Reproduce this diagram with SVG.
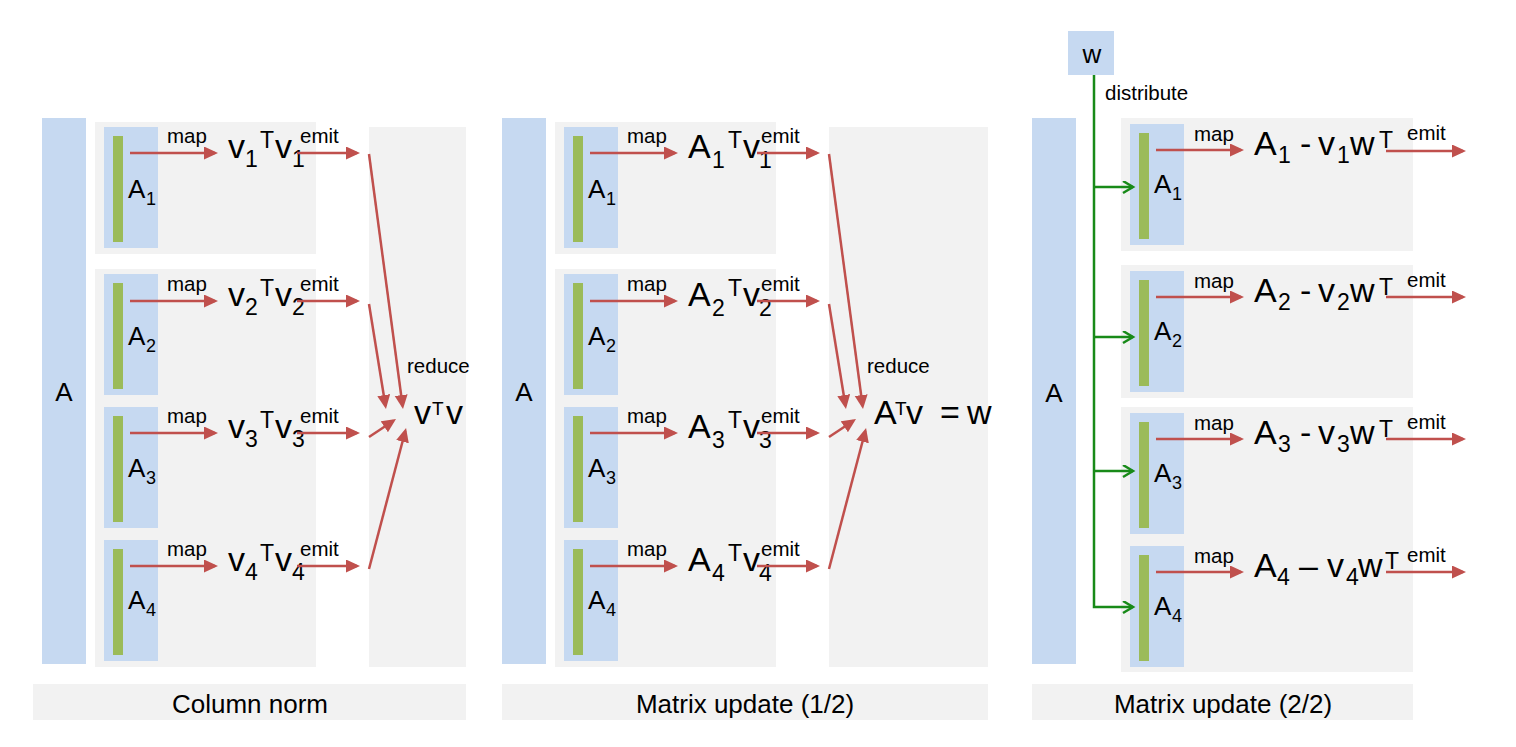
<svg xmlns="http://www.w3.org/2000/svg" width="1516" height="747" viewBox="0 0 1516 747">
<style>
text{font-family:"Liberation Sans",Arial,sans-serif;fill:#000}
.blue{fill:#c6d9f1}
.gray{fill:#f2f2f2}
.bar{fill:#9bbb59}
.lbl{font-size:20.5px}
.big{font-size:26px}
.cap{font-size:26px;text-anchor:middle}
.m{font-size:34px}
.s{font-size:23px}
.si{font-size:18px}
.red{stroke:#c0504d;stroke-width:2.5;fill:none;marker-end:url(#ah)}
.grn{stroke:#188a18;stroke-width:2.5;fill:none;marker-end:url(#gh)}
</style>
<defs>
<marker id="ah" markerUnits="userSpaceOnUse" markerWidth="15" markerHeight="14" refX="11" refY="6.5" orient="auto">
<path d="M0,0 L14,6.5 L0,13 z" fill="#c0504d"/>
</marker>
<marker id="gh" markerUnits="userSpaceOnUse" markerWidth="14" markerHeight="14" refX="11" refY="6.5" orient="auto">
<path d="M1,0.5 L11,6.5 L1,12.5" fill="none" stroke="#188a18" stroke-width="2.5"/>
</marker>
</defs>
<rect width="1516" height="747" fill="#fff"/>

<!-- Panel 1: Column norm -->
<g id="p1-A"><rect class="blue" x="42" y="118" width="44" height="546"/><text class="big" x="64" y="401" text-anchor="middle">A</text></g>
<g id="p1-row1"><rect class="gray" x="95" y="122" width="221" height="132"/><rect class="blue" x="104" y="127" width="54" height="121"/><rect class="bar" x="113" y="136" width="10" height="106"/>
<text class="big" x="128" y="198">A</text><text class="si" x="146" y="205">1</text>
<text class="lbl" x="167" y="143">map</text>
<text class="m" x="228" y="158">v</text><text class="s" x="245" y="167">1</text><text class="s" x="260" y="148">T</text><text class="m" x="275" y="158">v</text><text class="s" x="292" y="167">1</text>
<text class="lbl" x="300" y="143">emit</text></g>
<g id="p1-row2"><rect class="gray" x="95" y="269" width="221" height="133"/><rect class="blue" x="104" y="274" width="54" height="121"/><rect class="bar" x="113" y="283" width="10" height="106"/>
<text class="big" x="128" y="345">A</text><text class="si" x="146" y="352">2</text>
<text class="lbl" x="167" y="291">map</text>
<text class="m" x="228" y="306">v</text><text class="s" x="245" y="315">2</text><text class="s" x="260" y="296">T</text><text class="m" x="275" y="306">v</text><text class="s" x="292" y="315">2</text>
<text class="lbl" x="300" y="291">emit</text></g>
<g id="p1-row3"><rect class="gray" x="95" y="402" width="221" height="132"/><rect class="blue" x="104" y="407" width="54" height="121"/><rect class="bar" x="113" y="416" width="10" height="106"/>
<text class="big" x="128" y="477">A</text><text class="si" x="146" y="484">3</text>
<text class="lbl" x="167" y="423">map</text>
<text class="m" x="228" y="438">v</text><text class="s" x="245" y="447">3</text><text class="s" x="260" y="428">T</text><text class="m" x="275" y="438">v</text><text class="s" x="292" y="447">3</text>
<text class="lbl" x="300" y="423">emit</text></g>
<g id="p1-row4"><rect class="gray" x="95" y="534" width="221" height="133"/><rect class="blue" x="104" y="540" width="54" height="121"/><rect class="bar" x="113" y="549" width="10" height="106"/>
<text class="big" x="128" y="609">A</text><text class="si" x="146" y="616">4</text>
<text class="lbl" x="167" y="556">map</text>
<text class="m" x="228" y="571">v</text><text class="s" x="245" y="580">4</text><text class="s" x="260" y="561">T</text><text class="m" x="275" y="571">v</text><text class="s" x="292" y="580">4</text>
<text class="lbl" x="300" y="556">emit</text></g>
<g id="p1-reduce"><rect class="gray" x="369" y="127" width="97" height="540"/>
<text class="lbl" x="407" y="373">reduce</text>
<text class="m" x="414" y="424">v</text><text style="font-size:19px" x="432" y="415">T</text><text class="m" x="446" y="424">v</text></g>
<g id="p1-caption"><rect class="gray" x="33" y="684" width="433" height="36"/><text class="cap" x="250" y="713">Column norm</text></g>

<!-- Panel 2: Matrix update (1/2) -->
<g id="p2-A"><rect class="blue" x="502" y="118" width="44" height="546"/><text class="big" x="524" y="401" text-anchor="middle">A</text></g>
<g id="p2-row1"><rect class="gray" x="555" y="122" width="221" height="132"/><rect class="blue" x="564" y="127" width="54" height="121"/><rect class="bar" x="573" y="136" width="10" height="106"/>
<text class="big" x="588" y="198">A</text><text class="si" x="606" y="205">1</text>
<text class="lbl" x="627" y="143">map</text>
<text class="m" x="688" y="158">A</text><text class="s" x="712" y="168">1</text><text class="s" x="728" y="148">T</text><text class="m" x="743" y="158">v</text><text class="s" x="759" y="168">1</text>
<text class="lbl" x="761" y="143">emit</text></g>
<g id="p2-row2"><rect class="gray" x="555" y="269" width="221" height="133"/><rect class="blue" x="564" y="274" width="54" height="121"/><rect class="bar" x="573" y="283" width="10" height="106"/>
<text class="big" x="588" y="345">A</text><text class="si" x="606" y="352">2</text>
<text class="lbl" x="627" y="291">map</text>
<text class="m" x="688" y="306">A</text><text class="s" x="712" y="316">2</text><text class="s" x="728" y="296">T</text><text class="m" x="743" y="306">v</text><text class="s" x="759" y="316">2</text>
<text class="lbl" x="761" y="291">emit</text></g>
<g id="p2-row3"><rect class="gray" x="555" y="402" width="221" height="132"/><rect class="blue" x="564" y="407" width="54" height="121"/><rect class="bar" x="573" y="416" width="10" height="106"/>
<text class="big" x="588" y="477">A</text><text class="si" x="606" y="484">3</text>
<text class="lbl" x="627" y="423">map</text>
<text class="m" x="688" y="438">A</text><text class="s" x="712" y="448">3</text><text class="s" x="728" y="428">T</text><text class="m" x="743" y="438">v</text><text class="s" x="759" y="448">3</text>
<text class="lbl" x="761" y="423">emit</text></g>
<g id="p2-row4"><rect class="gray" x="555" y="534" width="221" height="133"/><rect class="blue" x="564" y="540" width="54" height="121"/><rect class="bar" x="573" y="549" width="10" height="106"/>
<text class="big" x="588" y="609">A</text><text class="si" x="606" y="616">4</text>
<text class="lbl" x="627" y="556">map</text>
<text class="m" x="688" y="571">A</text><text class="s" x="712" y="581">4</text><text class="s" x="728" y="561">T</text><text class="m" x="743" y="571">v</text><text class="s" x="759" y="581">4</text>
<text class="lbl" x="761" y="556">emit</text></g>
<g id="p2-reduce"><rect class="gray" x="829" y="127" width="159" height="540"/>
<text class="lbl" x="867" y="373">reduce</text>
<text class="m" x="874" y="424">A</text><text style="font-size:19px" x="895" y="415">T</text><text class="m" x="906" y="424">v</text><text class="m" x="940" y="424">=</text><text class="m" x="967" y="424">w</text></g>
<g id="p2-caption"><rect class="gray" x="502" y="684" width="486" height="36"/><text class="cap" x="745" y="713">Matrix update (1/2)</text></g>

<!-- Panel 3: Matrix update (2/2) -->
<g id="p3-A"><rect class="blue" x="1032" y="118" width="44" height="546"/><text class="big" x="1054" y="402" text-anchor="middle">A</text></g>
<g id="p3-w"><rect class="blue" x="1068" y="31" width="46" height="44"/><text class="big" x="1092" y="63" text-anchor="middle">w</text></g>
<g id="p3-row1"><rect class="gray" x="1121" y="118" width="292" height="133"/><rect class="blue" x="1130" y="124" width="54" height="121"/><rect class="bar" x="1139" y="133" width="10" height="106"/>
<text class="big" x="1154" y="193">A</text><text class="si" x="1172" y="200">1</text>
<text class="lbl" x="1194" y="141">map</text>
<text class="m" x="1254" y="155">A</text><text class="s" x="1278" y="163">1</text><text class="m" x="1300" y="155">-</text><text class="m" x="1318" y="155">v</text><text class="s" x="1337" y="163">1</text><text class="m" x="1350" y="155">w</text><text class="s" x="1379" y="148">T</text>
<text class="lbl" x="1407" y="140">emit</text></g>
<g id="p3-row2"><rect class="gray" x="1121" y="265" width="292" height="133"/><rect class="blue" x="1130" y="271" width="54" height="121"/><rect class="bar" x="1139" y="280" width="10" height="106"/>
<text class="big" x="1154" y="340">A</text><text class="si" x="1172" y="347">2</text>
<text class="lbl" x="1194" y="288">map</text>
<text class="m" x="1254" y="302">A</text><text class="s" x="1278" y="310">2</text><text class="m" x="1300" y="302">-</text><text class="m" x="1318" y="302">v</text><text class="s" x="1337" y="310">2</text><text class="m" x="1350" y="302">w</text><text class="s" x="1379" y="295">T</text>
<text class="lbl" x="1407" y="287">emit</text></g>
<g id="p3-row3"><rect class="gray" x="1121" y="407" width="292" height="133"/><rect class="blue" x="1130" y="413" width="54" height="121"/><rect class="bar" x="1139" y="422" width="10" height="106"/>
<text class="big" x="1154" y="482">A</text><text class="si" x="1172" y="489">3</text>
<text class="lbl" x="1194" y="430">map</text>
<text class="m" x="1254" y="444">A</text><text class="s" x="1278" y="452">3</text><text class="m" x="1300" y="444">-</text><text class="m" x="1318" y="444">v</text><text class="s" x="1337" y="452">3</text><text class="m" x="1350" y="444">w</text><text class="s" x="1379" y="437">T</text>
<text class="lbl" x="1407" y="429">emit</text></g>
<g id="p3-row4"><rect class="gray" x="1121" y="540" width="292" height="132"/><rect class="blue" x="1130" y="546" width="54" height="121"/><rect class="bar" x="1139" y="555" width="10" height="106"/>
<text class="big" x="1154" y="615">A</text><text class="si" x="1172" y="622">4</text>
<text class="lbl" x="1194" y="563">map</text>
<text class="m" x="1254" y="577">A</text><text class="s" x="1277" y="585">4</text><text class="m" x="1299" y="577">–</text><text class="m" x="1327" y="577">v</text><text class="s" x="1346" y="585">4</text><text class="m" x="1358" y="577">w</text><text class="s" x="1385" y="569">T</text>
<text class="lbl" x="1407" y="562">emit</text></g>
<g id="p3-caption"><rect class="gray" x="1032" y="684" width="381" height="36"/><text class="cap" x="1223" y="713">Matrix update (2/2)</text></g>

<!-- Connectors -->
<g id="connectors">
<line class="red" x1="130" y1="153" x2="215" y2="153"/>
<line class="red" x1="130" y1="301" x2="215" y2="301"/>
<line class="red" x1="130" y1="433" x2="215" y2="433"/>
<line class="red" x1="130" y1="566" x2="215" y2="566"/>
<line class="red" x1="297" y1="153" x2="357" y2="153"/>
<line class="red" x1="297" y1="301" x2="357" y2="301"/>
<line class="red" x1="297" y1="433" x2="357" y2="433"/>
<line class="red" x1="297" y1="566" x2="357" y2="566"/>
<line class="red" x1="369" y1="154" x2="402.6" y2="406"/>
<line class="red" x1="369" y1="304" x2="385.5" y2="406"/>
<line class="red" x1="369" y1="437" x2="393.5" y2="420.7"/>
<line class="red" x1="369" y1="569" x2="405.3" y2="431"/>

<line class="red" x1="590" y1="153" x2="675" y2="153"/>
<line class="red" x1="590" y1="301" x2="675" y2="301"/>
<line class="red" x1="590" y1="433" x2="675" y2="433"/>
<line class="red" x1="590" y1="566" x2="675" y2="566"/>
<line class="red" x1="757" y1="153" x2="817" y2="153"/>
<line class="red" x1="757" y1="301" x2="817" y2="301"/>
<line class="red" x1="757" y1="433" x2="817" y2="433"/>
<line class="red" x1="757" y1="566" x2="817" y2="566"/>
<line class="red" x1="829" y1="154" x2="862.6" y2="406"/>
<line class="red" x1="829" y1="304" x2="845.5" y2="406"/>
<line class="red" x1="829" y1="437" x2="853.5" y2="420.7"/>
<line class="red" x1="829" y1="569" x2="865.3" y2="431"/>

<line class="red" x1="1156" y1="150" x2="1241" y2="150"/>
<line class="red" x1="1156" y1="297" x2="1241" y2="297"/>
<line class="red" x1="1156" y1="439" x2="1241" y2="439"/>
<line class="red" x1="1156" y1="572" x2="1241" y2="572"/>
<line class="red" x1="1386" y1="151" x2="1463" y2="151"/>
<line class="red" x1="1386" y1="297" x2="1463" y2="297"/>
<line class="red" x1="1386" y1="439" x2="1463" y2="439"/>
<line class="red" x1="1386" y1="572" x2="1463" y2="572"/>

<path class="grn" d="M1094,75 V607 H1133"/>
<line class="grn" x1="1094" y1="187" x2="1133" y2="187"/>
<line class="grn" x1="1094" y1="337" x2="1133" y2="337"/>
<line class="grn" x1="1094" y1="471" x2="1133" y2="471"/>
<text class="lbl" x="1105" y="100">distribute</text>
</g>
</svg>
